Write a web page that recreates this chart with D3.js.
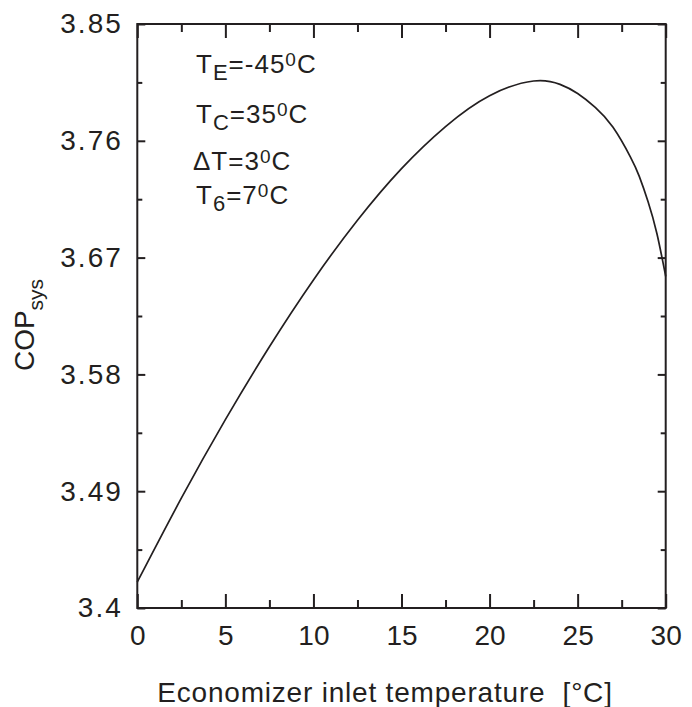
<!DOCTYPE html>
<html>
<head>
<meta charset="utf-8">
<script src="https://cdn.jsdelivr.net/npm/d3@7/dist/d3.min.js"></script>
<style>
  html, body { margin: 0; padding: 0; background: #fff; }
  svg text { font-family: "Liberation Sans", Arial, Helvetica, sans-serif; fill: #231f20; }
</style>
</head>
<body>
<svg id="chart" width="692" height="707"></svg>
<script>
// Economizer inlet temperature (°C) and the resulting system COP
const inletTemp = [0, 2.5, 5, 7.5, 10, 12.5, 15, 17.5, 20, 22.5, 24, 25, 26, 27, 28, 28.5, 29, 29.5, 30];
const copSys    = [3.4200, 3.4846, 3.5451, 3.6013, 3.6528, 3.6988, 3.7386, 3.7710, 3.7948, 3.8061,
                   3.8035, 3.7965, 3.7858, 3.7706, 3.7475, 3.7326, 3.7131, 3.6886, 3.6556];

// Axis ticks
const xMajorTicks = [0, 5, 10, 15, 20, 25, 30];
const xMinorTicks = [2.5, 7.5, 12.5, 17.5, 22.5, 27.5];
const yMajorTicks = [3.4, 3.49, 3.58, 3.67, 3.76, 3.85];
const yMajorLabels = ["3.4", "3.49", "3.58", "3.67", "3.76", "3.85"];
const yMinorTicks = [3.445, 3.535, 3.625, 3.715, 3.805];

// Operating conditions shown in the plot: [main, subscript, rest, superscript, unit]
const conditions = [
  ["T", "E", "=-45", "0", "C"],
  ["T", "C", "=35", "0", "C"],
  ["\u0394T", "", "=3", "0", "C"],
  ["T", "6", "=7", "0", "C"]
];

const svg = d3.select("#chart");
const ink = "#231f20";
const plotLeft = 137.3, plotRight = 665.7, plotTop = 24, plotBottom = 608;

const x = d3.scaleLinear().domain([0, 30]).range([plotLeft, plotRight]);
const y = d3.scaleLinear().domain([3.4, 3.85]).range([plotBottom, plotTop]);

function styleAxis(g) {
  g.select(".domain").remove();
  g.selectAll(".tick line").attr("stroke", ink).attr("stroke-width", 2);
}

// bottom axis (ticks pointing inward)
svg.append("g").attr("transform", `translate(0,${plotBottom})`)
  .call(d3.axisBottom(x).tickValues(xMajorTicks).tickSize(-14).tickPadding(17)
    .tickFormat(d3.format("d")))
  .call(styleAxis)
  .call(g => g.selectAll("text").attr("font-size", 28));
svg.append("g").attr("transform", `translate(0,${plotBottom})`)
  .call(d3.axisBottom(x).tickValues(xMinorTicks).tickSize(-8).tickFormat(""))
  .call(styleAxis);

// top axis
svg.append("g").attr("transform", `translate(0,${plotTop})`)
  .call(d3.axisTop(x).tickValues(xMajorTicks).tickSize(-14).tickFormat(""))
  .call(styleAxis);
svg.append("g").attr("transform", `translate(0,${plotTop})`)
  .call(d3.axisTop(x).tickValues(xMinorTicks).tickSize(-8).tickFormat(""))
  .call(styleAxis);

// left axis
svg.append("g").attr("transform", `translate(${plotLeft},0)`)
  .call(d3.axisLeft(y).tickValues(yMajorTicks).tickSize(-8).tickPadding(14.5)
    .tickFormat((d, i) => yMajorLabels[i]))
  .call(styleAxis)
  .call(g => g.selectAll("text").attr("font-size", 28).attr("letter-spacing", "2px"));
svg.append("g").attr("transform", `translate(${plotLeft},0)`)
  .call(d3.axisLeft(y).tickValues(yMinorTicks).tickSize(-5).tickFormat(""))
  .call(styleAxis);

// right axis
svg.append("g").attr("transform", `translate(${plotRight},0)`)
  .call(d3.axisRight(y).tickValues(yMajorTicks).tickSize(-8).tickFormat(""))
  .call(styleAxis);
svg.append("g").attr("transform", `translate(${plotRight},0)`)
  .call(d3.axisRight(y).tickValues(yMinorTicks).tickSize(-5).tickFormat(""))
  .call(styleAxis);

// plot frame
svg.append("rect")
  .attr("x", plotLeft).attr("y", plotTop)
  .attr("width", plotRight - plotLeft).attr("height", plotBottom - plotTop)
  .attr("fill", "none").attr("stroke", ink).attr("stroke-width", 2);

// COP curve (smooth spline through the sampled values)
const line = d3.line()
  .x((d, i) => x(inletTemp[i]))
  .y(d => y(d))
  .curve(d3.curveNatural);
svg.append("path")
  .datum(copSys)
  .attr("d", line)
  .attr("fill", "none")
  .attr("stroke", ink)
  .attr("stroke-width", 1.7);

// x axis title
svg.append("text")
  .attr("x", 385).attr("y", 702)
  .attr("text-anchor", "middle")
  .attr("font-size", 28)
  .attr("letter-spacing", "0.8px")
  .style("white-space", "pre")
  .text("Economizer inlet temperature  [\u00b0C]");

// y axis title: COP with subscript
const yTitle = svg.append("text")
  .attr("transform", "translate(33.5,325) rotate(-90)")
  .attr("text-anchor", "middle")
  .attr("font-size", 28);
yTitle.append("tspan").text("COP");
yTitle.append("tspan").attr("font-size", 21).attr("dy", 9).text("sys");

// operating conditions
const condBaselines = [72.5, 122.5, 170, 203.5];
const condX = [196, 196, 193, 196];
conditions.forEach((c, i) => {
  const t = svg.append("text")
    .attr("x", condX[i]).attr("y", condBaselines[i])
    .attr("font-size", 26)
    .attr("letter-spacing", "1px");
  t.append("tspan").text(c[0]);
  let shift = 0;
  if (c[1]) {
    t.append("tspan").attr("font-size", 22).attr("dy", 7.5).text(c[1]);
    shift = 7.5;
  }
  t.append("tspan").attr("dy", -shift).text(c[2]);
  t.append("tspan").attr("font-size", 19).attr("dy", -7).text(c[3]);
  t.append("tspan").attr("dy", 7).text(c[4]);
});
</script>
</body>
</html>
